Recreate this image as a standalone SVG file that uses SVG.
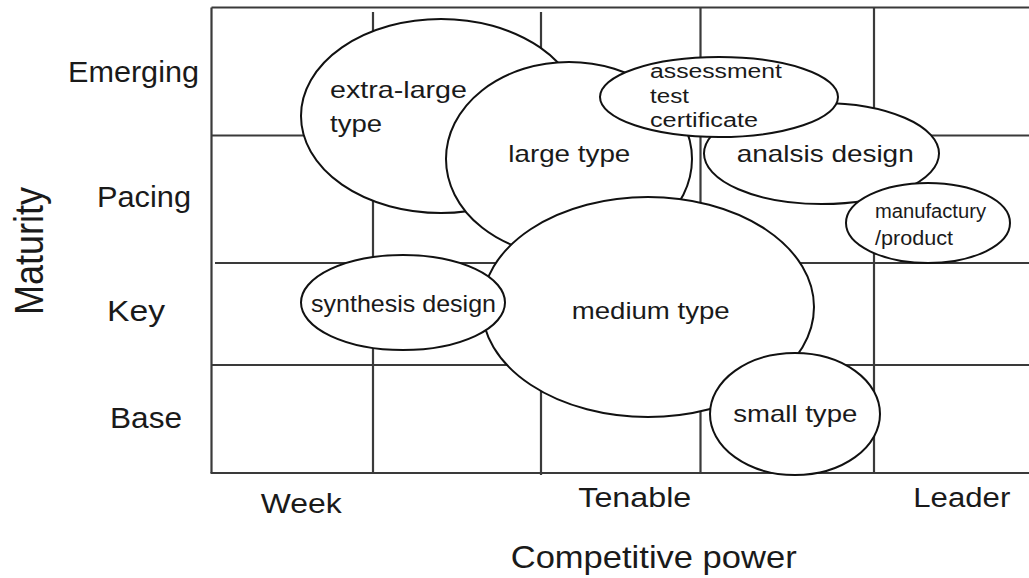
<svg xmlns="http://www.w3.org/2000/svg" width="1029" height="578" viewBox="0 0 1029 578">
<style>
.grid{stroke:#3a3a3a;stroke-width:2.2;fill:none}
.node ellipse{fill:#fff;stroke:#111;stroke-width:2}
text{font-family:"Liberation Sans",Arial,sans-serif;fill:#1a1a1a}
.lbl{font-size:24px}
.sm{font-size:20px}
.axis{font-size:29px}
.bot{font-size:27px}
.title{font-size:32px}
</style>
<rect width="1029" height="578" fill="#fff"/>
<g id="connectors">
<g class="grid">
<line x1="211.5" y1="7.5" x2="1029" y2="7.5"/>
<line x1="211.5" y1="7.5" x2="211.5" y2="473"/>
<line x1="210.5" y1="473" x2="1029" y2="473"/>
<line x1="211.5" y1="135.5" x2="1029" y2="135.5"/>
<line x1="215" y1="263" x2="1029" y2="263"/>
<line x1="211.5" y1="365" x2="1029" y2="365"/>
<line x1="373" y1="12" x2="373" y2="473"/>
<line x1="541" y1="12" x2="541" y2="475"/>
<line x1="700.5" y1="7.5" x2="700.5" y2="473"/>
<line x1="874" y1="7.5" x2="874" y2="473"/>
</g>
</g>
<g id="node-extra-large" class="node">
<ellipse cx="441" cy="116" rx="140" ry="97"/>
<text class="lbl" x="330" y="98.3" textLength="137" lengthAdjust="spacingAndGlyphs">extra-large</text>
<text class="lbl" x="330" y="131.7" textLength="52" lengthAdjust="spacingAndGlyphs">type</text>
</g>
<g id="node-large" class="node">
<ellipse cx="569" cy="159" rx="123" ry="97"/>
<text class="lbl" x="508.3" y="161.7" textLength="122" lengthAdjust="spacingAndGlyphs">large type</text>
</g>
<g id="node-medium" class="node">
<ellipse cx="648" cy="307" rx="166" ry="110"/>
<text class="lbl" x="571.7" y="319.3" textLength="158" lengthAdjust="spacingAndGlyphs">medium type</text>
</g>
<g id="node-synthesis" class="node">
<ellipse cx="403" cy="302.5" rx="102" ry="47.5"/>
<text class="lbl" x="311" y="311.7" textLength="185" lengthAdjust="spacingAndGlyphs">synthesis design</text>
</g>
<g id="node-small" class="node">
<ellipse cx="795" cy="414" rx="85" ry="61"/>
<text class="lbl" x="733.3" y="421.7" textLength="124" lengthAdjust="spacingAndGlyphs">small type</text>
</g>
<g id="node-analysis" class="node">
<ellipse cx="821.5" cy="153.5" rx="117.5" ry="50.5"/>
<text class="lbl" x="736.7" y="161.7" textLength="177" lengthAdjust="spacingAndGlyphs">analsis design</text>
</g>
<g id="node-assessment" class="node">
<ellipse cx="719" cy="97" rx="119" ry="40"/>
<text class="sm" x="650" y="78.3" textLength="132" lengthAdjust="spacingAndGlyphs">assessment</text>
<text class="sm" x="650" y="103.3" textLength="39" lengthAdjust="spacingAndGlyphs">test</text>
<text class="sm" x="650" y="126.7" textLength="108" lengthAdjust="spacingAndGlyphs">certificate</text>
</g>
<g id="node-manufactury" class="node">
<ellipse cx="928" cy="223" rx="82" ry="40"/>
<text class="sm" x="875" y="218.3" textLength="111" lengthAdjust="spacingAndGlyphs">manufactury</text>
<text class="sm" x="875" y="245" textLength="78" lengthAdjust="spacingAndGlyphs">/product</text>
</g>
<g id="axis-labels">
<text class="axis" x="68" y="81.7" textLength="131" lengthAdjust="spacingAndGlyphs">Emerging</text>
<text class="axis" x="97" y="206.7" textLength="94" lengthAdjust="spacingAndGlyphs">Pacing</text>
<text class="axis" x="107" y="320.5" textLength="58" lengthAdjust="spacingAndGlyphs">Key</text>
<text class="axis" x="110" y="428.3" textLength="72" lengthAdjust="spacingAndGlyphs">Base</text>
<text class="title" x="43" y="251" text-anchor="middle" transform="rotate(-90 43 251)" style="font-size:40px" textLength="128" lengthAdjust="spacingAndGlyphs">Maturity</text>
<text class="bot" x="260.7" y="513.3" textLength="81" lengthAdjust="spacingAndGlyphs">Week</text>
<text class="bot" x="578.3" y="506.7" textLength="113" lengthAdjust="spacingAndGlyphs">Tenable</text>
<text class="bot" x="913.3" y="506.7" textLength="97" lengthAdjust="spacingAndGlyphs">Leader</text>
<text class="title" x="510.7" y="568" textLength="286" lengthAdjust="spacingAndGlyphs">Competitive power</text>
</g>
</svg>
